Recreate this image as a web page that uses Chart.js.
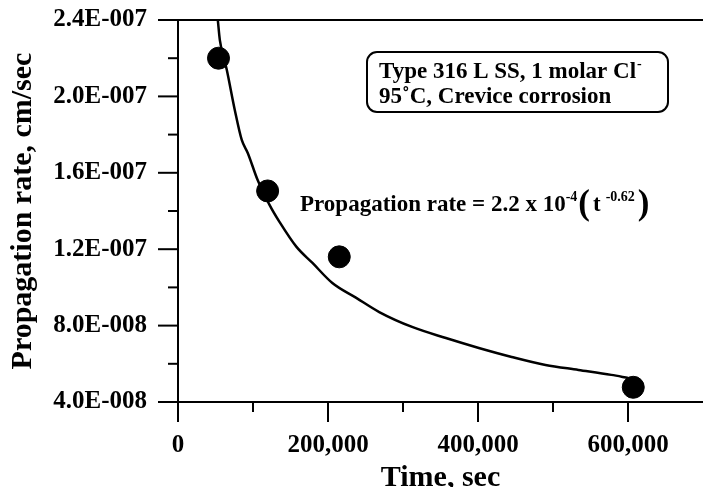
<!DOCTYPE html>
<html>

<head>
    <link rel="shortcut icon" href="#">
    <script src="https://cdn.jsdelivr.net/npm/chart.js@4.4.0/dist/chart.umd.min.js"></script>
    <style>
        html, body { margin: 0; padding: 0; background: #fff; }
    </style>
</head>

<body>
    <canvas id="myChart" width="703" height="487"></canvas>
    <script>
        // measured crevice propagation rates
        const timeSec = [54000, 119500, 215000, 607000];
        const propRate = [2.20e-7, 1.505e-7, 1.16e-7, 4.77e-8];

        // fitted curve
        const curveTime = [53100, 55800, 65100, 75700, 85000, 93000, 106200, 122200, 135500, 158000, 179300,
            205800, 237700, 268300, 312100, 357200, 401100, 444900, 490000, 533900, 577700, 600300];
        const curveRate = [2.40e-7, 2.295e-7, 2.138e-7, 1.929e-7, 1.772e-7, 1.704e-7, 1.562e-7, 1.431e-7, 1.342e-7,
            1.212e-7, 1.128e-7, 1.023e-7, 9.45e-8, 8.71e-8, 7.93e-8, 7.35e-8, 6.83e-8, 6.36e-8, 5.94e-8, 5.68e-8,
            5.42e-8, 5.26e-8];

        // axis ticks
        const xMajor = [0, 200000, 400000, 600000];
        const xMinor = [100000, 300000, 500000];
        const yMajor = [4e-8, 8e-8, 1.2e-7, 1.6e-7, 2.0e-7, 2.4e-7];
        const yMinor = [6e-8, 1.0e-7, 1.4e-7, 1.8e-7, 2.2e-7];

        const serif = '"Liberation Serif", "Times New Roman", serif';

        function sciLabel(v) {
            const parts = v.toExponential(1).split('e');
            const e = parseInt(parts[1]);
            return parts[0] + 'E' + (e < 0 ? '-' : '+') + String(Math.abs(e)).padStart(3, '0');
        }

        const decor = {
            id: 'decor',
            afterDraw(chart) {
                const ctx = chart.ctx;
                const a = chart.chartArea;
                const x = chart.scales.x, y = chart.scales.y;
                ctx.save();
                ctx.strokeStyle = '#000';
                ctx.lineWidth = 2;

                function seg(x1, y1, x2, y2) {
                    ctx.beginPath(); ctx.moveTo(x1, y1); ctx.lineTo(x2, y2); ctx.stroke();
                }
                // top frame line
                seg(a.left, a.top, a.right, a.top);
                // tick marks
                xMajor.forEach(v => { const p = x.getPixelForValue(v); seg(p, a.bottom, p, a.bottom + 20); });
                xMinor.forEach(v => { const p = x.getPixelForValue(v); seg(p, a.bottom, p, a.bottom + 10); });
                yMajor.forEach(v => { const p = y.getPixelForValue(v); seg(a.left - 20, p, a.left, p); });
                yMinor.forEach(v => { const p = y.getPixelForValue(v); seg(a.left - 10, p, a.left, p); });

                // legend box
                ctx.beginPath();
                ctx.roundRect(367, 52, 301, 60, 10);
                ctx.stroke();
                ctx.fillStyle = '#000';
                ctx.textBaseline = 'alphabetic';
                ctx.textAlign = 'left';
                ctx.font = 'bold 23px ' + serif;
                const l1 = 'Type 316 L SS, 1 molar Cl';
                ctx.fillText(l1, 379, 78);
                const w1 = ctx.measureText(l1).width;
                ctx.font = 'bold 14px ' + serif;
                ctx.fillText('-', 379 + w1 + 1, 68);
                ctx.font = 'bold 23px ' + serif;
                ctx.fillText('95\u02DAC, Crevice corrosion', 379, 103);

                // fit equation
                let cx = 300;
                const base = 211;
                ctx.font = 'bold 23px ' + serif;
                const eq = 'Propagation rate = 2.2 x 10';
                ctx.fillText(eq, cx, base);
                cx += ctx.measureText(eq).width;
                ctx.font = 'bold 14px ' + serif;
                ctx.fillText('-4', cx, base - 10);
                cx += ctx.measureText('-4').width + 1;
                ctx.font = 'bold 35px ' + serif;
                ctx.fillText('(', cx, base + 3);
                cx += ctx.measureText('(').width + 3;
                ctx.font = 'bold 23px ' + serif;
                ctx.fillText('t', cx, base);
                cx += ctx.measureText('t').width + 5;
                ctx.font = 'bold 14px ' + serif;
                ctx.fillText('-0.62', cx, base - 10);
                cx += ctx.measureText('-0.62').width + 3;
                ctx.font = 'bold 35px ' + serif;
                ctx.fillText(')', cx, base + 3);
                ctx.restore();
            }
        };

        new Chart(document.getElementById('myChart'), {
            type: 'scatter',
            data: {
                datasets: [{
                    data: timeSec.map((t, i) => ({ x: t, y: propRate[i] })),
                    backgroundColor: '#000',
                    borderColor: '#000',
                    pointRadius: 11,
                    pointHoverRadius: 11
                }, {
                    type: 'line',
                    data: curveTime.map((t, i) => ({ x: t, y: curveRate[i] })),
                    borderColor: '#000',
                    borderWidth: 2.5,
                    pointRadius: 0,
                    fill: false,
                    cubicInterpolationMode: 'monotone'
                }]
            },
            options: {
                responsive: false,
                animation: false,
                layout: { autoPadding: false, padding: { top: 20, right: 0, left: 0, bottom: 0 } },
                plugins: {
                    legend: { display: false },
                    tooltip: { enabled: false }
                },
                scales: {
                    x: {
                        type: 'linear',
                        min: 0,
                        max: 700000,
                        afterBuildTicks: s => { s.ticks = xMajor.map(v => ({ value: v })); },
                        afterFit: s => { s.height = 85; s.paddingLeft = 0; s.paddingRight = 0; },
                        grid: { drawOnChartArea: false, drawTicks: true, tickLength: 20, color: 'rgba(0,0,0,0)' },
                        border: { display: true, color: '#000', width: 2 },
                        ticks: {
                            autoSkip: false,
                            maxRotation: 0,
                            padding: 9,
                            color: '#000',
                            font: { family: serif, size: 25, weight: 'bold' },
                            callback: v => v.toLocaleString('en-US')
                        },
                        title: {
                            display: true,
                            text: 'Time, sec',
                            color: '#000',
                            padding: 0,
                            font: { family: serif, size: 30, weight: 'bold', lineHeight: 0.6 }
                        }
                    },
                    y: {
                        type: 'linear',
                        min: 4e-8,
                        max: 2.4e-7,
                        afterBuildTicks: s => { s.ticks = yMajor.map(v => ({ value: v })); },
                        afterFit: s => { s.width = 178; s.paddingTop = 0; s.paddingBottom = 0; },
                        grid: { drawOnChartArea: false, drawTicks: true, tickLength: 20, color: 'rgba(0,0,0,0)' },
                        border: { display: true, color: '#000', width: 2 },
                        ticks: {
                            padding: 11,
                            color: '#000',
                            font: { family: serif, size: 25, weight: 'bold' },
                            callback: v => sciLabel(v)
                        },
                        title: {
                            display: true,
                            text: 'Propagation rate, cm/sec',
                            color: '#000',
                            padding: { top: 5, bottom: 0 },
                            font: { family: serif, size: 30, weight: 'bold' }
                        }
                    }
                }
            },
            plugins: [decor]
        });
    </script>
</body>

</html>
